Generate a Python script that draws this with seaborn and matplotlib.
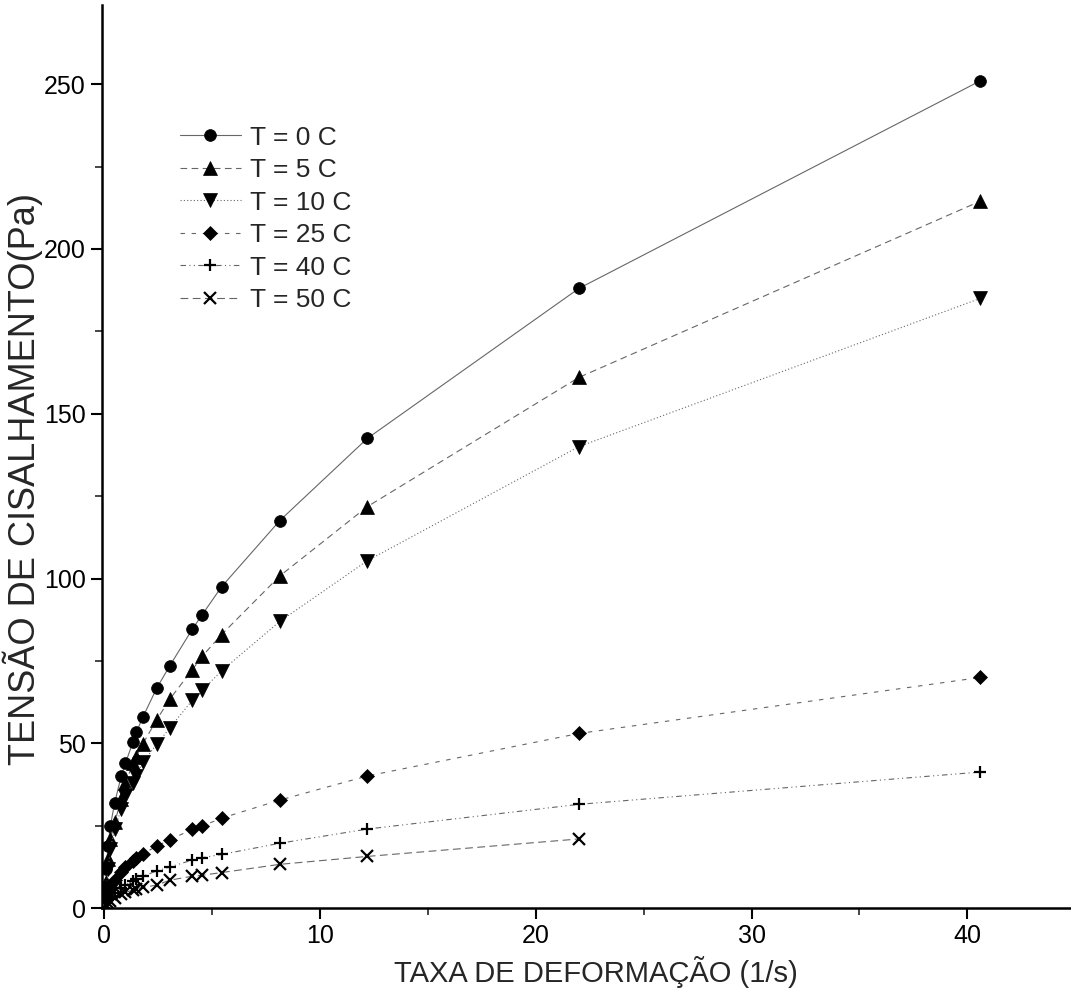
import matplotlib
matplotlib.use("Agg")
import matplotlib.pyplot as plt
from matplotlib.ticker import MultipleLocator
import seaborn as sns
import pandas as pd

# Shear rate (1/s)
shear_rate = [0.1, 0.2, 0.3, 0.5, 0.8, 1.0, 1.35, 1.5, 1.8, 2.45, 3.05, 4.1, 4.55,
              5.45, 8.15, 12.2, 22.0, 40.6]

# Shear stress (Pa) per temperature
t0 = [12, 19, 25, 32, 40, 44, 50.5, 53.3, 57.9, 66.8, 73.5, 84.7, 89, 97.5, 117.6, 142.5, 188, 251]
t5 = [8, 15, 21, 26, 33, 38, 44, 46, 49.8, 57.2, 63.4, 72.4, 76.4, 83, 100.8, 121.8, 161, 214.5]
t10 = [6, 12, 18, 24, 30, 34, 38, 40, 44.4, 49.7, 54.7, 63.1, 66.1, 72, 87, 105.4, 140, 185]
t25 = [3, 5, 6.5, 8.5, 11, 12.5, 14.3, 15.2, 16.5, 18.8, 20.8, 23.9, 24.9, 27.3, 32.8, 40.1, 53, 70]
t40 = [1.5, 2.5, 3.3, 4.5, 6, 7, 8.3, 8.8, 9.7, 11.3, 12.5, 14.6, 15.3, 16.3, 19.7, 24, 31.5, 41.3]
t50 = [1, 1.7, 2.3, 3.2, 4.2, 4.8, 5.5, 5.9, 6.3, 7, 8.5, 9.7, 10, 10.8, 13.3, 15.7, 21]

labels = ["T = 0 C", "T = 5 C", "T = 10 C", "T = 25 C", "T = 40 C", "T = 50 C"]
series = [t0, t5, t10, t25, t40, t50]

sns.set_style("ticks")
plt.rcParams["font.family"] = ["Liberation Sans", "DejaVu Sans"]

fig = plt.figure(figsize=(10.71, 9.98), dpi=100)
ax = fig.add_axes([0.095, 0.09, 0.905, 0.905])

styles = [
    dict(marker="o", linestyle="-", ms=8.5),
    dict(marker="^", linestyle=(0, (6, 4)), ms=9.5),
    dict(marker="v", linestyle=(0, (1, 2)), ms=9.5),
    dict(marker="D", linestyle=(0, (4, 6)), ms=7.5),
    dict(marker="+", linestyle=(0, (5, 3, 1, 3, 1, 3)), ms=9),
    dict(marker="x", linestyle=(0, (7, 4)), ms=8),
]

for lab, vals, st in zip(labels, series, styles):
    df = pd.DataFrame({"x": shear_rate[:len(vals)], "y": vals})
    sns.lineplot(data=df, x="x", y="y", ax=ax, label=lab,
                 color="#666666", lw=0.8, linestyle=st["linestyle"],
                 marker=st["marker"], markersize=st["ms"],
                 markerfacecolor="black", markeredgecolor="black",
                 markeredgewidth=1.6 if st["marker"] in "+x" else 0.5)

ax.set_xlim(-0.1, 44.8)
ax.set_ylim(0, 274)
ax.xaxis.set_major_locator(MultipleLocator(10))
ax.xaxis.set_minor_locator(MultipleLocator(5))
ax.yaxis.set_major_locator(MultipleLocator(50))
ax.yaxis.set_minor_locator(MultipleLocator(25))
ax.tick_params(axis="both", which="major", direction="out", length=8, width=1.5,
               labelsize=18, colors="black")
ax.tick_params(axis="both", which="minor", direction="out", length=5, width=1.2)

for s in ["top", "right"]:
    ax.spines[s].set_visible(False)
for s in ["left", "bottom"]:
    ax.spines[s].set_linewidth(1.8)
    ax.spines[s].set_color("black")

ax.set_xlabel("TAXA DE DEFORMAÇÃO (1/s)", fontsize=21)
ax.xaxis.set_label_coords(0.51, -0.053)
ax.set_ylabel("TENSÃO DE CISALHAMENTO(Pa)", fontsize=26)
ax.yaxis.set_label_coords(-0.061, 0.475)

leg = ax.legend(loc="upper left", bbox_to_anchor=(0.07, 0.878), frameon=False,
                fontsize=19, handlelength=2.3, labelspacing=0.32, handletextpad=0.35,
                borderaxespad=0)

fig.savefig("out.png", dpi=100)
